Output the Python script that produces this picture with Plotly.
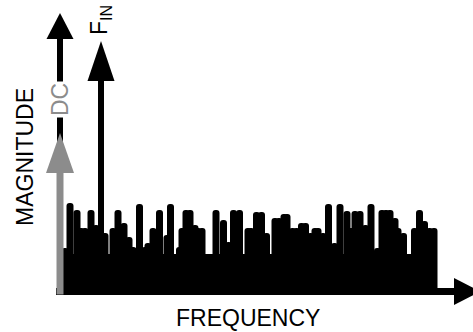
import plotly.graph_objects as go

# ---------------- data (arbitrary units) ----------------
# Signal components: DC and the input tone F_IN
signal_names = ["DC", "F<sub>IN</sub>"]
signal_freq = [0, 41]
signal_mag = [158.5, 250.5]

# Noise spectrum (frequency, magnitude)
noise_freq = [5, 10, 17, 21, 25, 31, 36, 41, 45, 53, 58, 64, 69, 73, 79.5, 85, 88, 93,
              99.5, 107, 110.5, 119.5, 122, 126, 130, 135, 138, 142, 156, 163.5, 168.5,
              173.5, 179.5, 188, 191, 196.5, 201.5, 206.5, 215, 219, 224, 227, 232.5,
              236.5, 241.5, 245.5, 250.5, 255, 258, 263, 268.5, 274.5, 280, 287, 291,
              295, 300, 305.5, 311, 317.5, 322, 326, 330, 335, 338, 343.5, 354.5, 359.5,
              364.5, 369.5, 374]
noise_mag = [43.5, 88.5, 81.5, 63.5, 63.5, 81.5, 66.5, 56.5, 58.5, 63.5, 81.5, 68.5, 54.5,
             44.5, 87.5, 44.5, 48.5, 63.5, 81.5, 56.5, 87.5, 44.5, 63.5, 81.5, 81.5, 66.5,
             63.5, 63.5, 81.5, 71.5, 49.5, 81.5, 81.5, 63.5, 63.5, 79.5, 79.5, 58.5, 73.5,
             73.5, 77.5, 77.5, 63.5, 63.5, 68.5, 68.5, 58.5, 63.5, 63.5, 58.5, 87.5, 48.5,
             87.5, 80.5, 63.5, 80.5, 80.5, 66.5, 87.5, 43.5, 81.5, 81.5, 81.5, 73.5, 63.5,
             58.5, 63.5, 81.5, 70.5, 63.5, 63.5]
noise_floor = 37.5

axis_labels = ["FREQUENCY", "MAGNITUDE"]

# ---------------- styling / layout constants ----------------
W, H = 473, 332
X_RANGE = [-60, 413]
Y_RANGE = [-40.5, 291.5]
BLACK = "#000000"
GRAY = "#8c8c8c"
FONT = "Liberation Sans, Arial, sans-serif"
BIN_W = 7
X_AXIS_END = 394
Y_AXIS_END = 252.5
AXIS_HEAD_LEN = 26
SIG_HEAD_LEN = 40
HEAD_HALF = 13.5

fig = go.Figure()


def up_head(x, tip, length, half, color):
    base = tip - length
    fig.add_trace(go.Scatter(x=[x - half, x + half, x, x - half],
                             y=[base, base, tip, base], mode="lines",
                             fill="toself", fillcolor=color,
                             line=dict(width=0, color=color), hoverinfo="skip"))


def right_head(y, base, length, half, color):
    fig.add_trace(go.Scatter(x=[base, base, base + length, base],
                             y=[y - half, y + half, y, y - half], mode="lines",
                             fill="toself", fillcolor=color,
                             line=dict(width=0, color=color), hoverinfo="skip"))


def shaft(xs, ys, color, width):
    fig.add_trace(go.Scatter(x=xs, y=ys, mode="lines",
                             line=dict(color=color, width=width), hoverinfo="skip"))


# noise floor + noise spikes (bars)
lo = min(noise_freq) - 3
hi = max(noise_freq) + 3
fig.add_trace(go.Bar(x=[(lo + hi) / 2], y=[noise_floor], width=[hi - lo],
                     marker=dict(color=BLACK, line=dict(width=0)), hoverinfo="skip"))
fig.add_trace(go.Bar(x=noise_freq, y=noise_mag, width=BIN_W,
                     marker=dict(color=BLACK, line=dict(width=0)), hoverinfo="skip"))

# magnitude axis (black) with arrow
shaft([0, 0], [-3.5, Y_AXIS_END], BLACK, 6)
up_head(0, Y_AXIS_END + AXIS_HEAD_LEN, AXIS_HEAD_LEN, HEAD_HALF, BLACK)

# frequency axis with arrow
shaft([-4, X_AXIS_END], [0, 0], BLACK, 7)
right_head(0, X_AXIS_END, AXIS_HEAD_LEN, HEAD_HALF, BLACK)

# F_IN arrow
shaft([signal_freq[1], signal_freq[1]], [0, signal_mag[1] - SIG_HEAD_LEN], BLACK, 6)
up_head(signal_freq[1], signal_mag[1], SIG_HEAD_LEN, HEAD_HALF, BLACK)

# DC arrow (gray)
shaft([signal_freq[0], signal_freq[0]], [-3, signal_mag[0] - SIG_HEAD_LEN], GRAY, 7)
up_head(signal_freq[0], signal_mag[0], SIG_HEAD_LEN, 14, GRAY)

# labels
fig.add_annotation(x=signal_freq[0], y=191.5, text=signal_names[0], textangle=-90,
                   showarrow=False, font=dict(family=FONT, size=23, color=GRAY),
                   bgcolor="white", borderpad=1, xanchor="center", yanchor="middle")
fig.add_annotation(x=signal_freq[1] - 1, y=271.5, text=signal_names[1], textangle=-90,
                   showarrow=False, font=dict(family=FONT, size=23, color=BLACK),
                   xanchor="center", yanchor="middle")
fig.add_annotation(x=-35, y=134.5, text=axis_labels[1], textangle=-90,
                   showarrow=False, font=dict(family=FONT, size=23, color=BLACK),
                   xanchor="center", yanchor="middle")
fig.add_annotation(x=188, y=-40.5, text=axis_labels[0], borderpad=0,
                   showarrow=False, font=dict(family=FONT, size=23, color=BLACK),
                   xanchor="center", yanchor="bottom")

fig.update_layout(
    width=W, height=H, margin=dict(l=0, r=0, t=0, b=0),
    paper_bgcolor="white", plot_bgcolor="white", showlegend=False,
    barmode="overlay", barcornerradius=3.5,
    xaxis=dict(range=X_RANGE, visible=False, fixedrange=True),
    yaxis=dict(range=Y_RANGE, visible=False, fixedrange=True),
)

fig.write_html("out.html")
